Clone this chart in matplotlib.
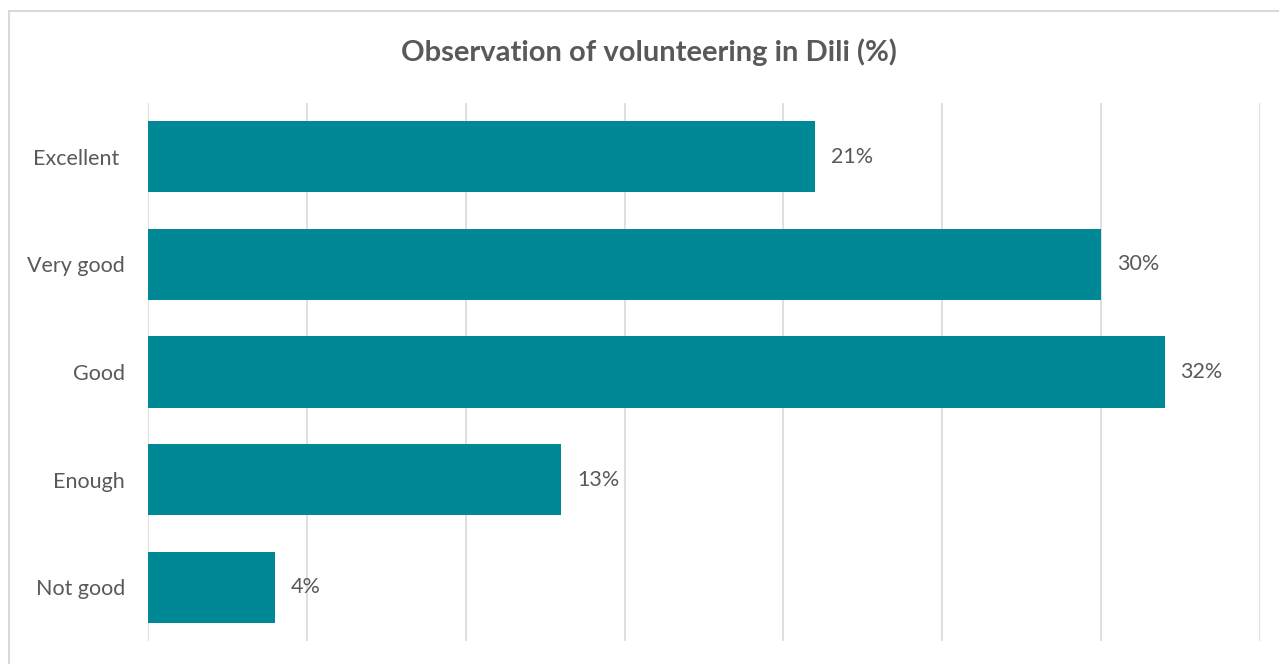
import matplotlib.pyplot as plt
from matplotlib.patches import Rectangle

plt.rcParams['font.family'] = ['Lato', 'DejaVu Sans']

# data (top to bottom)
categories = ['Excellent ', 'Very good', 'Good', 'Enough', 'Not good']
values = [21, 30, 32, 13, 4]
labels = ['21%', '30%', '32%', '13%', '4%']

bar_color = '#008896'
text_color = '#595959'
grid_color = '#d9d9d9'

W, H = 1279, 664
fig = plt.figure(figsize=(W / 100, H / 100), dpi=100)
ax = fig.add_axes([148 / W, 1 - 641 / H, (1260 - 148) / W, (641 - 103) / H])

ypos = list(range(len(categories)))
ax.barh(ypos, values, height=0.66, color=bar_color, zorder=3)
ax.set_ylim(len(categories) - 0.5, -0.5)
ax.set_xlim(0, 35)
ax.set_xticks(range(0, 36, 5))
ax.set_xticklabels([])
ax.tick_params(axis='x', length=0)
ax.tick_params(axis='y', length=0, pad=16.5, labelsize=15.5, labelcolor=text_color)
ax.set_yticks(ypos)
ax.set_yticklabels(categories)
ax.grid(axis='x', color=grid_color, linewidth=1.2, zorder=0)
for s in ax.spines.values():
    s.set_visible(False)

for y, v, lab in zip(ypos, values, labels):
    ax.text(v + 0.5, y, lab, va='center', ha='left', fontsize=15.5, color=text_color)

fig.text(649 / W, 1 - 52 / H, 'Observation of volunteering in Dili (%)', ha='center', va='center',
         fontsize=21, fontweight='bold', color=text_color)

# outer chart border
fig.patches.append(Rectangle((9 / W, -0.1), 1.2, 1 - 11 / H + 0.1, transform=fig.transFigure,
                             fill=False, edgecolor=grid_color, linewidth=1.5))

fig.savefig('out.png', dpi=100)
